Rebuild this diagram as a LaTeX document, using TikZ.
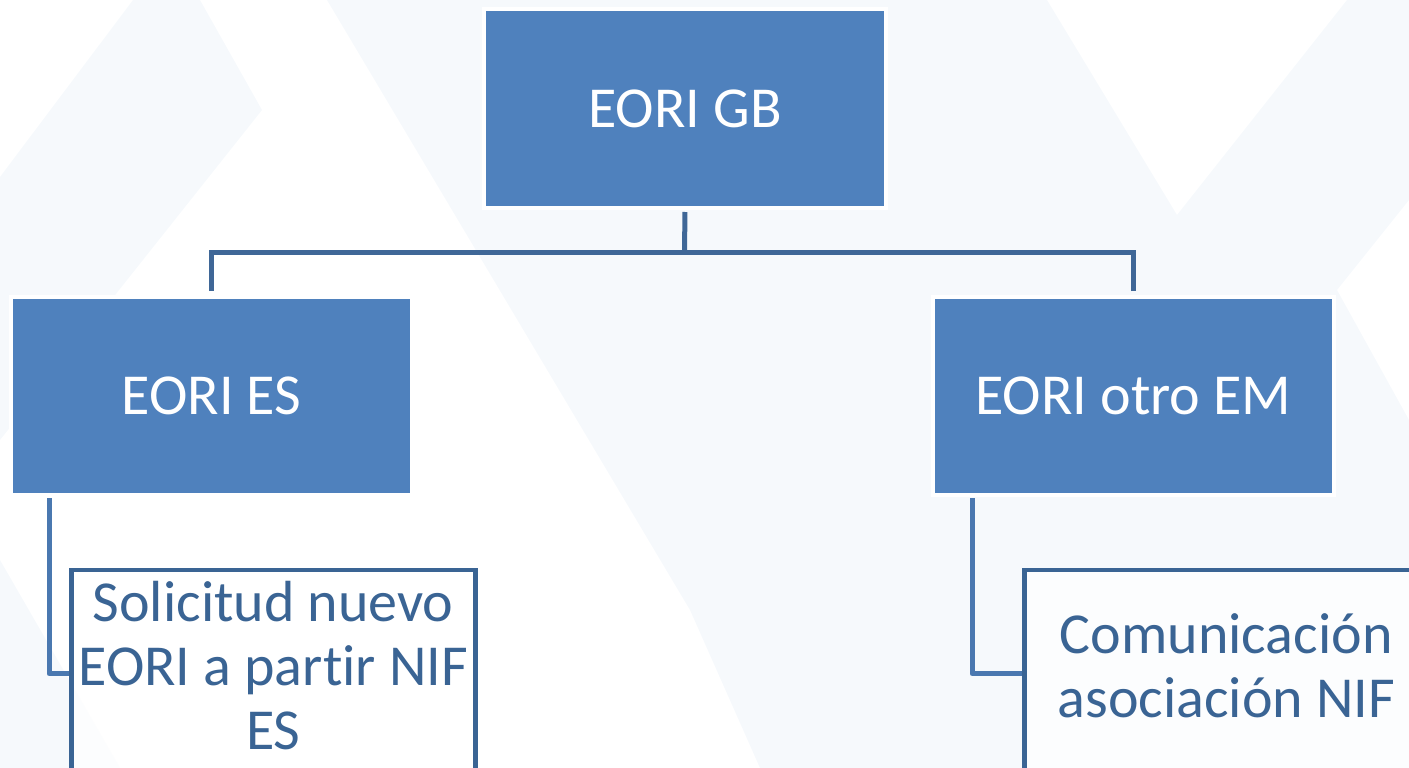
\documentclass[tikz,border=0pt]{standalone}
\usepackage{fontspec}
\setmainfont[Ligatures=NoCommon]{Carlito}
\usetikzlibrary{calc}
\definecolor{boxblue}{HTML}{4F81BD}
\definecolor{darkblue}{HTML}{3A6494}
\definecolor{connA}{HTML}{3F6797}
\definecolor{connB}{HTML}{4A78B0}
\definecolor{bgshade}{HTML}{F6F9FC}
\newcommand{\uplines}[1]{\raisebox{1.5pt}[\height][\depth]{\begin{tabular}{@{}c@{}}#1\end{tabular}}}
\tikzset{
  topbox/.style={rectangle, fill=boxblue, draw=white, line width=4pt, inner sep=0pt,
    text=white, font=\fontsize{58}{64}\selectfont},
  subbox/.style={rectangle, fill=white, fill opacity=0.75, text opacity=1, draw=darkblue, draw opacity=1, line width=4.5pt, inner sep=0pt,
    text=darkblue, font=\fontsize{58}{64}\selectfont,
    minimum width=404pt, minimum height=208pt, anchor=north west},
  connup/.style={draw=connA, line width=5pt},
  conndown/.style={draw=connB, line width=5pt, line join=round},
}
\begin{document}
\begin{tikzpicture}[x=1pt,y=-1pt]
\useasboundingbox (0,0) rectangle (1409,768);
\clip (0,0) rectangle (1409,768);
% faint background shapes
\fill[bgshade] (0,177) -- (133,0) -- (200,0) -- (262,110) -- (0,440) -- cycle;
\fill[bgshade] (327,0) -- (1047,0) -- (1177,215) -- (1347,0) -- (1409,0) -- (1409,200)
  -- (1337,290) -- (1409,420) -- (1409,768) -- (760,768) -- (690,610) -- cycle;
\fill[bgshade] (0,560) -- (120,768) -- (0,768) -- cycle;
% nodes
\node[topbox, minimum width=402pt, minimum height=199pt] (gb) at (685,108.5) {EORI GB};
\node[topbox, minimum width=401pt, minimum height=198pt] (es) at (211.5,396) {EORI ES};
\node[topbox, minimum width=401pt, minimum height=198pt] (otro) at (1133.5,396) {EORI otro EM};
\node[subbox] (sol) at (69,567.5) {\uplines{Solicitud nuevo\\EORI a partir NIF\\ES}};
\node[subbox] (com) at (1022,567.5) {\uplines{Comunicación\\asociación NIF}};
% connectors
\coordinate (j) at (684.5,252);
\draw[connup, shorten <=2pt] (gb.south) -- (j);
\draw[connup, shorten <=4pt] (es.north) |- (j);
\draw[connup, shorten <=4pt] (otro.north) |- (j);
\coordinate (esL) at (49,498);
\coordinate (otroL) at (972,498);
\draw[conndown] (esL) |- (sol.west);
\draw[conndown] (otroL) |- (com.west);
\end{tikzpicture}
\end{document}
